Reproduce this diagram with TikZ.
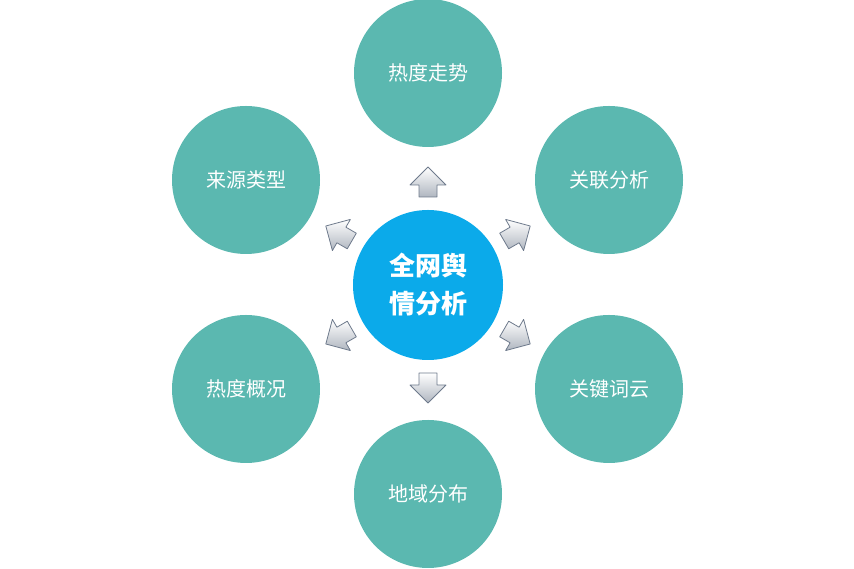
\documentclass[tikz,border=0pt]{standalone}
\usepackage{fontspec}
\setmainfont{Noto Sans CJK SC}
\usetikzlibrary{positioning}
\definecolor{tealc}{HTML}{5BB8B0}
\definecolor{hubc}{HTML}{0BAAEA}
\definecolor{arrowedge}{HTML}{6E7A8C}
\begin{document}
\begin{tikzpicture}[x=1pt,y=1pt,
   topic/.style={circle,fill=tealc,minimum size=148pt,inner sep=0pt,text=white,font=\fontsize{20}{24}\selectfont},
   hub/.style={circle,fill=hubc,minimum size=150pt,inner sep=0pt,text=white,align=center,font=\bfseries\fontsize{26}{38}\selectfont},
   blockarrow/.style={draw=arrowedge,line width=0.8pt,top color=white,bottom color=arrowedge!55,line join=round}]
\useasboundingbox (0,0) rectangle (854,569);
% hub and topics
\node[hub] (hub) at (428,284) {全网舆\\情分析};
\node[topic] (trend) at (428,496) {热度走势};
\node[topic] (relate) at (609,389) {关联分析};
\node[topic] (words) at (609,180) {关键词云};
\node[topic] (region) at (428,75) {地域分布};
\node[topic] (overview) at (246,180) {热度概况};
\node[topic] (source) at (246,389) {来源类型};
% arrows between hub and topics
\foreach \ang in {90,30,-30,-90,-150,150}{
  \begin{scope}[shift={(hub.center)},rotate=\ang-90,shift={(0,88)}]
    \path[blockarrow] (-9,0) -- (-9,12) -- (-18,12) -- (0,30) -- (18,12) -- (9,12) -- (9,0) -- cycle;
  \end{scope}
}
\end{tikzpicture}
\end{document}
